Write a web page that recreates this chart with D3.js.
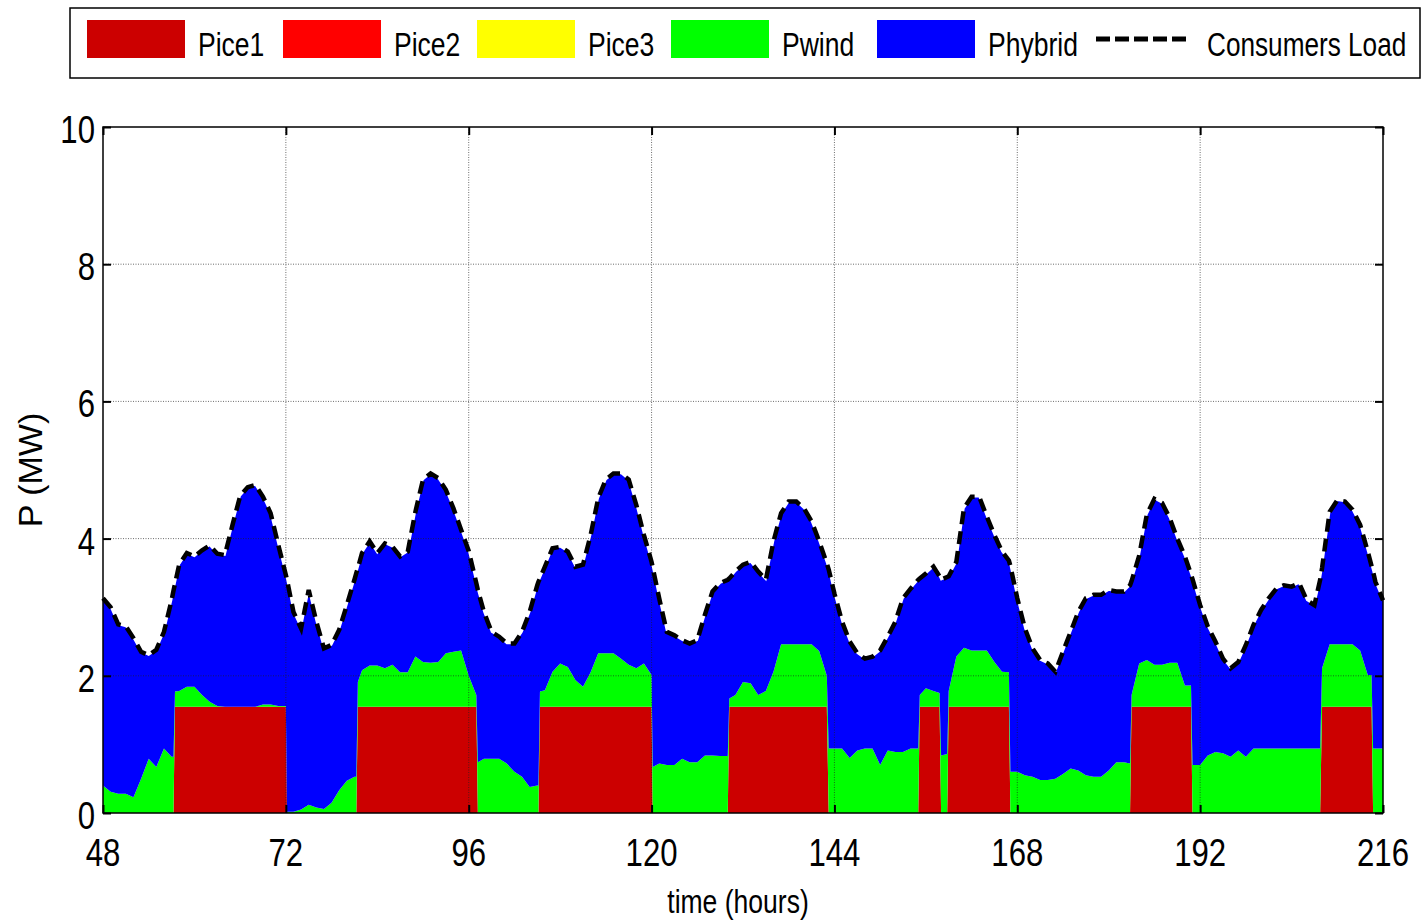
<html>
<script src="https://d3js.org/d3.v7.min.js"></script>
<style>
    body { margin: 0; background: #fff; }
    text { font-family: 'Liberation Sans', Arial, sans-serif; }
</style>
<body>
<svg width=1424 height=920></svg>
<script>
    // time stamps (hours); a few extra points sit on the Pice1 on/off edges
    var hours = [
        48, 49, 50, 51, 52, 53, 54, 55, 56, 57, 57.25, 57.45, 58, 59, 60, 61, 62, 63, 64, 65, 66, 67, 68, 69, 70, 71, 72, 72.15,
        73, 74, 75, 76, 77, 78, 79, 80, 81, 81.25, 81.45, 82, 83, 84, 85, 86, 87, 88, 89, 90, 91, 92, 93, 94, 95, 96, 97, 97.2,
        98, 99, 100, 101, 102, 103, 104, 105, 105.15, 105.35, 106, 107, 108, 109, 110, 111, 112, 113, 114, 115, 116, 117, 118, 119, 120, 120.15,
        121, 122, 123, 124, 125, 126, 127, 128, 129, 130, 130.2, 131, 132, 133, 134, 135, 136, 137, 138, 139, 140, 141, 142, 143, 143.25,
        144, 145, 146, 147, 148, 149, 150, 151, 152, 153, 154, 155, 155.2, 156, 157, 157.8, 158, 158.8, 159, 160, 161, 162, 163, 164, 165, 166, 166.9, 167.1,
        168, 169, 170, 171, 172, 173, 174, 175, 176, 177, 178, 179, 180, 181, 182, 182.8, 183, 184, 185, 186, 187, 188, 189, 190, 190.8, 191, 192,
        193, 194, 195, 196, 197, 198, 199, 200, 201, 202, 203, 204, 205, 206, 207, 207.75, 208, 209, 210, 211, 212, 213, 214, 214.5, 214.7, 215, 216
    ];

    // Consumers Load (MW)
    var load = [
        3.13, 3.00, 2.75, 2.72, 2.55, 2.35, 2.30, 2.38, 2.64, 3.10, 3.24, 3.34, 3.62, 3.79, 3.74, 3.83, 3.90, 3.78, 3.76, 4.20, 4.62, 4.75, 4.78, 4.61, 4.37, 3.91, 3.47, 3.40,
        2.93, 2.69, 3.25, 2.79, 2.40, 2.45, 2.67, 3.03, 3.40, 3.50, 3.57, 3.79, 3.96, 3.79, 3.93, 3.88, 3.74, 3.81, 4.39, 4.86, 4.95, 4.88, 4.71, 4.44, 4.13, 3.82, 3.35, 3.25,
        2.93, 2.64, 2.57, 2.47, 2.47, 2.64, 2.93, 3.32, 3.37, 3.42, 3.59, 3.86, 3.88, 3.81, 3.59, 3.62, 4.05, 4.59, 4.86, 4.95, 4.95, 4.86, 4.49, 4.05, 3.66, 3.58,
        3.13, 2.64, 2.59, 2.52, 2.47, 2.52, 2.89, 3.23, 3.35, 3.40, 3.42, 3.52, 3.62, 3.66, 3.52, 3.40, 3.96, 4.37, 4.54, 4.54, 4.44, 4.25, 3.96, 3.64, 3.55,
        3.20, 2.79, 2.50, 2.33, 2.25, 2.28, 2.37, 2.57, 2.79, 3.13, 3.27, 3.40, 3.42, 3.49, 3.59, 3.45, 3.40, 3.44, 3.45, 3.66, 4.44, 4.61, 4.61, 4.32, 4.05, 3.81, 3.68, 3.60,
        3.13, 2.69, 2.40, 2.23, 2.18, 2.06, 2.35, 2.64, 2.93, 3.13, 3.18, 3.18, 3.25, 3.23, 3.23, 3.32, 3.38, 3.75, 4.35, 4.58, 4.52, 4.30, 4.00, 3.74, 3.48, 3.41, 3.03,
        2.72, 2.50, 2.25, 2.11, 2.20, 2.45, 2.74, 2.96, 3.13, 3.27, 3.32, 3.30, 3.35, 3.10, 3.03, 3.40, 3.57, 4.39, 4.56, 4.54, 4.42, 4.20, 3.81, 3.60, 3.52, 3.37, 3.10
    ];

    var pice1 = [
        0, 0, 0, 0, 0, 0, 0, 0, 0, 0, 0, 1.55, 1.55, 1.55, 1.55, 1.55, 1.55, 1.55, 1.55, 1.55, 1.55, 1.55, 1.55, 1.55, 1.55, 1.55, 1.55, 0,
        0, 0, 0, 0, 0, 0, 0, 0, 0, 0, 1.55, 1.55, 1.55, 1.55, 1.55, 1.55, 1.55, 1.55, 1.55, 1.55, 1.55, 1.55, 1.55, 1.55, 1.55, 1.55, 1.55, 0,
        0, 0, 0, 0, 0, 0, 0, 0, 0, 1.55, 1.55, 1.55, 1.55, 1.55, 1.55, 1.55, 1.55, 1.55, 1.55, 1.55, 1.55, 1.55, 1.55, 1.55, 1.55, 0,
        0, 0, 0, 0, 0, 0, 0, 0, 0, 0, 1.55, 1.55, 1.55, 1.55, 1.55, 1.55, 1.55, 1.55, 1.55, 1.55, 1.55, 1.55, 1.55, 1.55, 0,
        0, 0, 0, 0, 0, 0, 0, 0, 0, 0, 0, 0, 1.55, 1.55, 1.55, 1.55, 0, 0, 1.55, 1.55, 1.55, 1.55, 1.55, 1.55, 1.55, 1.55, 1.55, 0,
        0, 0, 0, 0, 0, 0, 0, 0, 0, 0, 0, 0, 0, 0, 0, 0, 1.55, 1.55, 1.55, 1.55, 1.55, 1.55, 1.55, 1.55, 1.55, 0, 0,
        0, 0, 0, 0, 0, 0, 0, 0, 0, 0, 0, 0, 0, 0, 0, 0, 1.55, 1.55, 1.55, 1.55, 1.55, 1.55, 1.55, 1.55, 0, 0, 0
    ];

    var pice2 = [
        0, 0, 0, 0, 0, 0, 0, 0, 0, 0, 0, 0, 0, 0, 0, 0, 0, 0, 0, 0, 0, 0, 0, 0, 0, 0, 0, 0,
        0, 0, 0, 0, 0, 0, 0, 0, 0, 0, 0, 0, 0, 0, 0, 0, 0, 0, 0, 0, 0, 0, 0, 0, 0, 0, 0, 0,
        0, 0, 0, 0, 0, 0, 0, 0, 0, 0, 0, 0, 0, 0, 0, 0, 0, 0, 0, 0, 0, 0, 0, 0, 0, 0,
        0, 0, 0, 0, 0, 0, 0, 0, 0, 0, 0, 0, 0, 0, 0, 0, 0, 0, 0, 0, 0, 0, 0, 0, 0,
        0, 0, 0, 0, 0, 0, 0, 0, 0, 0, 0, 0, 0, 0, 0, 0, 0, 0, 0, 0, 0, 0, 0, 0, 0, 0, 0, 0,
        0, 0, 0, 0, 0, 0, 0, 0, 0, 0, 0, 0, 0, 0, 0, 0, 0, 0, 0, 0, 0, 0, 0, 0, 0, 0, 0,
        0, 0, 0, 0, 0, 0, 0, 0, 0, 0, 0, 0, 0, 0, 0, 0, 0, 0, 0, 0, 0, 0, 0, 0, 0, 0, 0
    ];

    var pice3 = [
        0, 0, 0, 0, 0, 0, 0, 0, 0, 0, 0, 0, 0, 0, 0, 0, 0, 0, 0, 0, 0, 0, 0, 0, 0, 0, 0, 0,
        0, 0, 0, 0, 0, 0, 0, 0, 0, 0, 0, 0, 0, 0, 0, 0, 0, 0, 0, 0, 0, 0, 0, 0, 0, 0, 0, 0,
        0, 0, 0, 0, 0, 0, 0, 0, 0, 0, 0, 0, 0, 0, 0, 0, 0, 0, 0, 0, 0, 0, 0, 0, 0, 0,
        0, 0, 0, 0, 0, 0, 0, 0, 0, 0, 0, 0, 0, 0, 0, 0, 0, 0, 0, 0, 0, 0, 0, 0, 0,
        0, 0, 0, 0, 0, 0, 0, 0, 0, 0, 0, 0, 0, 0, 0, 0, 0, 0, 0, 0, 0, 0, 0, 0, 0, 0, 0, 0,
        0, 0, 0, 0, 0, 0, 0, 0, 0, 0, 0, 0, 0, 0, 0, 0, 0, 0, 0, 0, 0, 0, 0, 0, 0, 0, 0,
        0, 0, 0, 0, 0, 0, 0, 0, 0, 0, 0, 0, 0, 0, 0, 0, 0, 0, 0, 0, 0, 0, 0, 0, 0, 0, 0
    ];

    var pwind = [
        0.40, 0.31, 0.28, 0.28, 0.23, 0.50, 0.79, 0.67, 0.94, 0.82, 0.82, 0.22, 0.23, 0.29, 0.29, 0.17, 0.07, 0.01, 0, 0, 0, 0, 0, 0.03, 0.03, 0.01, 0.01, 0.02,
        0.02, 0.05, 0.12, 0.08, 0.06, 0.15, 0.33, 0.47, 0.53, 0.53, 0.36, 0.53, 0.60, 0.60, 0.56, 0.61, 0.50, 0.50, 0.73, 0.65, 0.64, 0.65, 0.78, 0.80, 0.82, 0.45, 0.17, 0.74,
        0.79, 0.79, 0.79, 0.72, 0.60, 0.53, 0.38, 0.40, 0.40, 0.22, 0.24, 0.51, 0.63, 0.58, 0.39, 0.29, 0.50, 0.78, 0.78, 0.78, 0.70, 0.61, 0.56, 0.63, 0.46, 0.67,
        0.72, 0.70, 0.70, 0.79, 0.74, 0.74, 0.84, 0.84, 0.83, 0.83, 0.12, 0.17, 0.36, 0.34, 0.17, 0.23, 0.51, 0.91, 0.91, 0.91, 0.91, 0.91, 0.81, 0.45, 0.94,
        0.94, 0.94, 0.80, 0.91, 0.94, 0.94, 0.70, 0.91, 0.89, 0.89, 0.94, 0.94, 0.17, 0.27, 0.23, 0.20, 0.84, 0.86, 0.23, 0.73, 0.86, 0.82, 0.82, 0.82, 0.65, 0.51, 0.50, 0.60,
        0.60, 0.55, 0.53, 0.48, 0.48, 0.50, 0.57, 0.65, 0.62, 0.55, 0.53, 0.53, 0.62, 0.74, 0.74, 0.72, 0.17, 0.63, 0.68, 0.61, 0.61, 0.64, 0.64, 0.31, 0.31, 0.70, 0.70,
        0.84, 0.89, 0.87, 0.82, 0.91, 0.82, 0.94, 0.94, 0.94, 0.94, 0.94, 0.94, 0.94, 0.94, 0.94, 0.94, 0.56, 0.91, 0.91, 0.91, 0.91, 0.82, 0.46, 0.46, 0.94, 0.94, 0.94
    ];

    var phybrid = [
        2.73, 2.69, 2.47, 2.44, 2.32, 1.85, 1.51, 1.71, 1.70, 2.28, 2.42, 1.57, 1.84, 1.95, 1.90, 2.11, 2.28, 2.22, 2.21, 2.65, 3.07, 3.20, 3.23, 3.03, 2.79, 2.35, 1.91, 3.38,
        2.91, 2.64, 3.13, 2.71, 2.34, 2.30, 2.34, 2.56, 2.87, 2.97, 1.66, 1.71, 1.81, 1.64, 1.82, 1.72, 1.69, 1.76, 2.11, 2.66, 2.76, 2.68, 2.38, 2.09, 1.76, 1.82, 1.63, 2.51,
        2.14, 1.85, 1.78, 1.75, 1.87, 2.11, 2.55, 2.92, 2.97, 1.65, 1.80, 1.80, 1.70, 1.68, 1.65, 1.78, 2.00, 2.26, 2.53, 2.62, 2.70, 2.70, 2.38, 1.87, 1.65, 2.91,
        2.41, 1.94, 1.89, 1.73, 1.73, 1.78, 2.05, 2.39, 2.52, 2.57, 1.75, 1.80, 1.71, 1.77, 1.80, 1.62, 1.90, 1.91, 2.08, 2.08, 1.98, 1.79, 1.60, 1.64, 2.61,
        2.26, 1.85, 1.70, 1.42, 1.31, 1.34, 1.67, 1.66, 1.90, 2.24, 2.33, 2.46, 1.70, 1.67, 1.81, 1.70, 2.56, 2.58, 1.67, 1.38, 2.03, 2.24, 2.24, 1.95, 1.85, 1.75, 1.63, 3.00,
        2.53, 2.14, 1.87, 1.75, 1.70, 1.56, 1.78, 1.99, 2.31, 2.58, 2.65, 2.65, 2.63, 2.49, 2.49, 2.60, 1.66, 1.57, 2.12, 2.42, 2.36, 2.11, 1.81, 1.88, 1.62, 2.71, 2.33,
        1.88, 1.61, 1.38, 1.29, 1.29, 1.63, 1.80, 2.02, 2.19, 2.33, 2.38, 2.36, 2.41, 2.16, 2.09, 2.46, 1.46, 1.93, 2.10, 2.08, 1.96, 1.83, 1.80, 1.59, 2.58, 2.43, 2.16
    ];

    var seriesNames = ["Pice1", "Pice2", "Pice3", "Pwind", "Phybrid"];
    var xTicks = [48, 72, 96, 120, 144, 168, 192, 216];
    var yTicks = [0, 2, 4, 6, 8, 10];

    var colors = ["#cc0000", "#ff0000", "#ffff00", "#00ff00", "#0000ff"];

    var svg = d3.select("svg");
    var xs = d3.scaleLinear().domain([48, 216]).range([103, 1383]);
    var ys = d3.scaleLinear().domain([0, 10]).range([813, 127]);

    // the figure uses a narrow face: place each text with a transform that squeezes it in x
    function placeNarrow(sel, px, py, k) {
        sel.attr("transform", function (d, i) {
            var x = typeof px === "function" ? px(d, i) : px;
            var y = typeof py === "function" ? py(d, i) : py;
            return "translate(" + x + "," + y + ") scale(" + k + ",1)";
        });
    }

    // table for the stack
    var rows = hours.map(function (h, i) {
        return { t: h, Pice1: pice1[i], Pice2: pice2[i], Pice3: pice3[i], Pwind: pwind[i], Phybrid: phybrid[i] };
    });
    var stacked = d3.stack().keys(seriesNames)(rows);

    var area = d3.area()
        .x(function (d) { return xs(d.data.t); })
        .y0(function (d) { return ys(d[0]); })
        .y1(function (d) { return ys(d[1]); });

    svg.append("g").selectAll("path").data(stacked).enter().append("path")
        .attr("d", area)
        .attr("fill", function (d, i) { return colors[i]; });

    // grid
    var grid = svg.append("g")
        .attr("stroke", "#222")
        .attr("stroke-width", 1)
        .attr("stroke-dasharray", "1,1.5")
        .attr("opacity", 0.65);
    grid.selectAll(".gx").data(xTicks.slice(1, -1)).enter().append("line")
        .attr("x1", function (d) { return xs(d); }).attr("x2", function (d) { return xs(d); })
        .attr("y1", ys(10)).attr("y2", ys(0));
    grid.selectAll(".gy").data(yTicks.slice(1, -1)).enter().append("line")
        .attr("x1", xs(48)).attr("x2", xs(216))
        .attr("y1", function (d) { return ys(d); }).attr("y2", function (d) { return ys(d); });

    // consumers load
    var line = d3.line()
        .x(function (d, i) { return xs(hours[i]); })
        .y(function (d) { return ys(d); });
    svg.append("path").datum(load)
        .attr("d", line)
        .attr("fill", "none")
        .attr("stroke", "#fff")
        .attr("stroke-width", 1.5);
    svg.append("path").datum(load)
        .attr("d", line)
        .attr("fill", "none")
        .attr("stroke", "#000")
        .attr("stroke-width", 4.5)
        .attr("stroke-dasharray", "13,7");

    // axes, ticks inward on all four sides
    svg.append("g").attr("transform", "translate(0," + ys(0) + ")")
        .call(d3.axisTop(xs).tickValues(xTicks).tickSize(8).tickFormat(""));
    svg.append("g").attr("transform", "translate(0," + ys(10) + ")")
        .call(d3.axisBottom(xs).tickValues(xTicks).tickSize(8).tickFormat(""));
    svg.append("g").attr("transform", "translate(" + xs(48) + ",0)")
        .call(d3.axisRight(ys).tickValues(yTicks).tickSize(8).tickFormat(""));
    svg.append("g").attr("transform", "translate(" + xs(216) + ",0)")
        .call(d3.axisLeft(ys).tickValues(yTicks).tickSize(8).tickFormat(""));
    svg.selectAll(".domain").remove();
    svg.selectAll(".tick line").attr("stroke", "#000").attr("stroke-width", 2);

    svg.append("rect")
        .attr("x", xs(48)).attr("y", ys(10))
        .attr("width", xs(216) - xs(48)).attr("height", ys(0) - ys(10))
        .attr("fill", "none").attr("stroke", "#000").attr("stroke-width", 1.5);

    // tick labels
    svg.append("g").selectAll("text").data(xTicks).enter().append("text")
        .attr("text-anchor", "middle")
        .attr("font-size", 38)
        .text(function (d) { return d; })
        .call(placeNarrow, function (d) { return xs(d); }, 866, 0.82);
    svg.append("g").selectAll("text").data(yTicks).enter().append("text")
        .attr("text-anchor", "end")
        .attr("font-size", 38)
        .text(function (d) { return d; })
        .call(placeNarrow, 95, function (d) { return ys(d) + 16; }, 0.82);

    svg.append("text")
        .attr("text-anchor", "middle")
        .attr("font-size", 34)
        .text("time (hours)")
        .call(placeNarrow, 738, 913, 0.78);
    svg.append("text")
        .attr("transform", "translate(42,470) rotate(-90)")
        .attr("text-anchor", "middle")
        .attr("font-size", 34)
        .text("P (MW)");

    // legend
    var lg = svg.append("g");
    lg.append("rect")
        .attr("x", 70).attr("y", 8).attr("width", 1350).attr("height", 70)
        .attr("fill", "#fff").attr("stroke", "#000").attr("stroke-width", 1.5);
    var swatchX = [87, 283, 477, 671, 877];
    lg.selectAll(".sw").data(seriesNames).enter().append("rect")
        .attr("x", function (d, i) { return swatchX[i]; })
        .attr("y", 20).attr("width", 98).attr("height", 38)
        .attr("fill", function (d, i) { return colors[i]; });
    lg.selectAll(".lt").data(seriesNames).enter().append("text")
        .attr("font-size", 34)
        .text(function (d) { return d; })
        .call(placeNarrow, function (d, i) { return swatchX[i] + 111; }, 56, 0.78);
    lg.append("line")
        .attr("x1", 1096).attr("x2", 1190).attr("y1", 39).attr("y2", 39)
        .attr("stroke", "#000").attr("stroke-width", 5)
        .attr("stroke-dasharray", "14,5");
    lg.append("text")
        .attr("font-size", 34)
        .text("Consumers Load")
        .call(placeNarrow, 1207, 56, 0.77);
</script>
</body>
</html>
